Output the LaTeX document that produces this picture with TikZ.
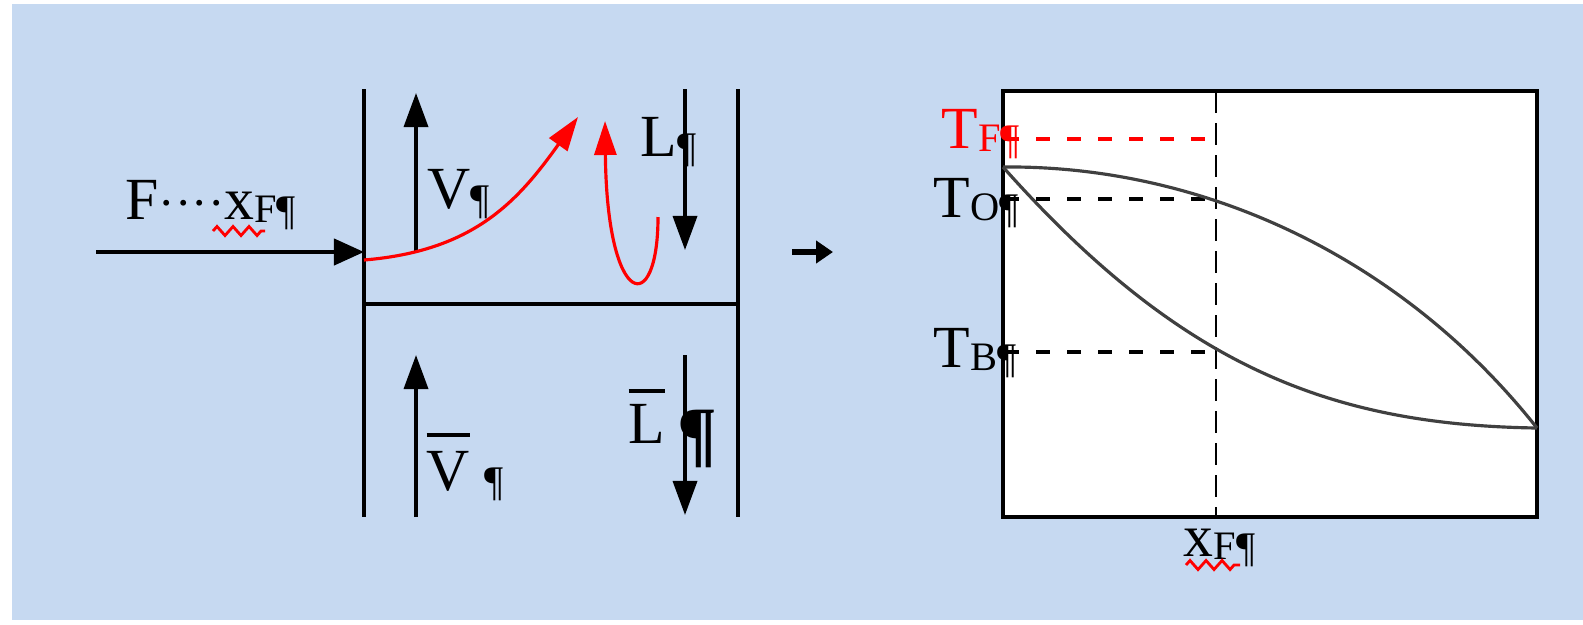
\documentclass[tikz,border=0pt]{standalone}
\usepackage{fontspec}
\usepackage{xcolor}
\setmainfont{Liberation Serif}
\usetikzlibrary{arrows.meta,decorations.pathmorphing}

\definecolor{bgblue}{HTML}{C6D9F1}
\newcommand{\sub}[1]{\raisebox{-1pt}{\fontsize{11.5}{12}\selectfont #1}}
\newcommand{\pil}{\raisebox{-1.5pt}{\fontsize{12}{12}\selectfont ¶}}
\newcommand{\barred}[2]{\vbox{\hrule height 1.1pt\kern #1\hbox{#2}}}

\begin{document}
\begin{tikzpicture}[x=0.01cm,y=-0.01cm,>={Triangle[length=0.34cm,width=0.24cm]}]
  \tikzstyle{lab}=[inner sep=0pt,anchor=base west,font=\fontsize{17}{20}\selectfont]
  \tikzstyle{flow}=[line width=1pt,->]
  \tikzstyle{vapour}=[red,line width=0.9pt,-{Triangle[length=0.34cm,width=0.22cm]}]
  \tikzstyle{tline}=[line width=1.1pt,dash pattern=on 0.14cm off 0.17cm]
  \tikzstyle{curve}=[black!75,line width=0.9pt]
  \tikzstyle{spell}=[red,line width=0.8pt,decorate,decoration={zigzag,segment length=0.16cm,amplitude=0.045cm}]
  \useasboundingbox (0,0) rectangle (1583,624);
  \fill[bgblue] (12,4) rectangle (1583,620);

  % column
  \draw[line width=1pt] (364,89) -- (364,517) (738,89) -- (738,517) (364,304) -- (738,304);
  \foreach \name/\x/\ya/\yb in {V/416/252/93,L/685/89/250,Vb/416/517/355,Lb/685/355/515} {
    \coordinate (\name-a) at (\x,\ya);
    \coordinate (\name-b) at (\x,\yb);
    \draw[flow] (\name-a) -- (\name-b);
  }
  \coordinate (feed-a) at (96,252);
  \coordinate (feed-b) at (364,252);
  \draw[line width=1.2pt,-{Triangle[length=0.3cm,width=0.26cm]}] (feed-a) -- (feed-b);
  \coordinate (r1-a) at (364,260);
  \coordinate (r1-b) at (578,117);
  \draw[vapour] (r1-a) .. controls (474,251) and (518,201) .. (r1-b);
  \coordinate (r2-a) at (658,217);
  \coordinate (r2-b) at (605,121);
  \draw[vapour] (r2-a) .. controls (658,318) and (607,310) .. (r2-b);

  \node[lab] (feed) at (125,219) {F{\fontsize{14}{14}\selectfont····}x\sub{F}\pil};
  \node[lab] (vap) at (427,208) {V\pil};
  \node[lab] (liq) at (640,156) {L\pil};
  \node[lab] (vapb) at (426,490) {\barred{4pt}{V} \pil};
  \node[lab] (liqb) at (628,443) {\barred{3pt}{L}\hspace{3.5pt}\raisebox{-4.5pt}{\fontsize{21}{21}\selectfont\bfseries ¶}};
  \coordinate (w1-a) at (213,231);
  \coordinate (w1-b) at (265,231);
  \draw[spell] (w1-a) -- (w1-b);

  % middle arrow
  \coordinate (m-a) at (792,252);
  \coordinate (m-b) at (833,252);
  \draw[line width=1.5pt,-{Triangle[length=0.17cm,width=0.22cm]}] (m-a) -- (m-b);

  % diagram
  \draw[line width=1.3pt,fill=white] (1003,91) rectangle (1537,517);
  \coordinate (xf-a) at (1216,91);
  \coordinate (xf-b) at (1216,517);
  \draw[line width=0.8pt,dash pattern=on 0.22cm off 0.1cm] (xf-a) -- (xf-b);
  \foreach \name/\y/\col in {TF/139/red,TO/199/black,TB/352/black} {
    \coordinate (\name-a) at (1005,\y);
    \coordinate (\name-b) at (1216,\y);
    \draw[tline,\col] (\name-a) -- (\name-b);
  }
  \coordinate (top) at (1003,167);
  \coordinate (end) at (1537,428);
  \draw[curve] (top) .. controls (1200,165) and (1400,255) .. (end);
  \draw[curve] (top) .. controls (1180,366) and (1330,425) .. (end);

  \node[lab,red] (tf) at (941,148) {T\sub{F}\pil};
  \node[lab] (to) at (933,217) {T\sub{O}\pil};
  \node[lab] (tb) at (933,367) {T\sub{B}\pil};
  \node[lab] (xf) at (1183,556) {x\sub{F}\pil};
  \coordinate (w2-a) at (1186,565);
  \coordinate (w2-b) at (1240,565);
  \draw[spell] (w2-a) -- (w2-b);
\end{tikzpicture}
\end{document}
